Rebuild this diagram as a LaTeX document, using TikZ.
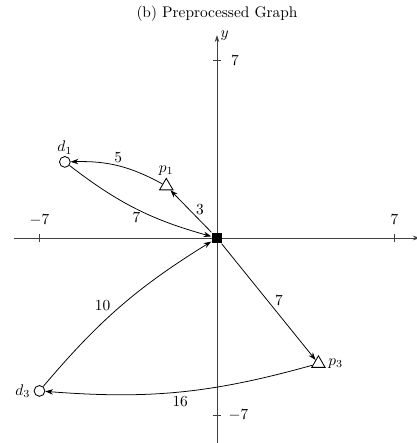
\documentclass[tikz,border=0pt]{standalone}
\usetikzlibrary{arrows.meta,shapes.geometric}
\begin{document}
\begin{tikzpicture}[x=0.579cm,y=0.579cm,
  axis/.style={draw=black!75, line width=0.55pt, -{Stealth[length=4.5pt,width=3pt]}},
  axtick/.style={draw=black!75, line width=0.55pt},
  dnode/.style={circle, draw, line width=0.55pt, inner sep=0pt, minimum size=7pt, fill=white},
  pnode/.style={regular polygon, regular polygon sides=3, draw, line width=0.55pt, inner sep=0pt, minimum size=10pt, fill=white},
  onode/.style={rectangle, fill=black, inner sep=0pt, minimum size=7pt},
  edgearrow/.style={draw, line width=0.5pt, -{Stealth[length=5pt,width=3.5pt]}},
  elabel/.style={inner sep=1pt}]
\useasboundingbox (-8.557,-8.084) rectangle (7.886,9.385);
% title
\node (title) at (0,8.83) {(b) Preprocessed Graph};
% axes
\coordinate (xl) at (-8,0);
\coordinate (xr) at (8,0);
\coordinate (yb) at (0,-8.2);
\coordinate (yt) at (0,8);
\draw[axis] (xl) -- (xr) node[right] (xlab) {$x$};
\draw[axis] (yb) -- (yt) node[anchor=south west, inner sep=1pt, xshift=1pt, yshift=-5pt] (ylab) {$y$};
\coordinate (tx1a) at (-7,-0.15); \coordinate (tx1b) at (-7,0.15);
\coordinate (tx2a) at (7,-0.15);  \coordinate (tx2b) at (7,0.15);
\coordinate (ty1a) at (-0.15,7);  \coordinate (ty1b) at (0.15,7);
\coordinate (ty2a) at (-0.15,-7); \coordinate (ty2b) at (0.15,-7);
\draw[axtick] (tx1a) -- (tx1b);
\draw[axtick] (tx2a) -- (tx2b);
\draw[axtick] (ty1a) -- (ty1b);
\draw[axtick] (ty2a) -- (ty2b);
\node (lxm) at (-7,0.71) {$-7$};
\node (lxp) at (7,0.71) {$7$};
\node (lyp) at (0.71,7) {$7$};
\node (lym) at (0.85,-7) {$-7$};
% nodes
\node[onode] (o) at (0,0) {};
\node[dnode, label={[inner sep=1pt]above:$d_1$}] (d1) at (-6,3) {};
\node[pnode, label={[inner sep=1pt]above:$p_1$}] (p1) at (-2,2.05) {};
\node[dnode, label={[inner sep=2pt]left:$d_3$}] (d3) at (-7,-6.03) {};
\node[pnode, label={[inner sep=3pt]right:$p_3$}] (p3) at (4,-4.95) {};
% edges
\draw[edgearrow] (p1) to[bend right=15] node[midway, above, inner sep=2pt] (l5) {$5$} (d1);
\draw[edgearrow] (d1) to[bend right=11] node[midway, below, inner sep=2pt] (l7a) {$7$} (o);
\draw[edgearrow] (o) -- node[pos=0.4, above right, inner sep=0.5pt] (l3) {$3$} (p1);
\draw[edgearrow] (d3) to[bend left=9] node[pos=0.45, above left, inner sep=1.5pt] (l10) {$10$} (o);
\draw[edgearrow] (o) -- node[pos=0.55, above right, elabel] (l7b) {$7$} (p3);
\draw[edgearrow] (p3) to[bend left=10] node[midway, below, inner sep=3pt] (l16) {$16$} (d3);
\end{tikzpicture}
\end{document}
